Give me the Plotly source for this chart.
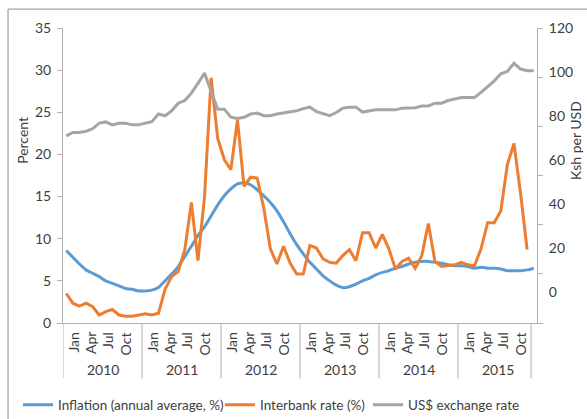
import plotly.graph_objects as go

months = list(range(72))  # Jan 2010 .. Dec 2015
years = ["2010", "2011", "2012", "2013", "2014", "2015"]
month_labels = ["Jan", "Apr", "Jul", "Oct"]

inflation = [8.6, 7.8, 7.0, 6.3, 5.9, 5.5, 5.0, 4.7, 4.4, 4.1, 4.0, 3.8,
             3.8, 3.9, 4.2, 5.0, 5.8, 6.7, 7.9, 9.1, 10.4, 11.4, 12.7, 14.0,
             15.1, 15.9, 16.5, 16.6, 16.4, 15.8, 15.1, 14.3, 13.3, 12.0, 10.6, 9.3,
             8.2, 7.2, 6.4, 5.6, 5.0, 4.5, 4.2, 4.3, 4.6, 5.0, 5.3, 5.7,
             6.0, 6.2, 6.5, 6.7, 7.0, 7.2, 7.3, 7.3, 7.2, 7.1, 6.9, 6.8,
             6.8, 6.7, 6.5, 6.6, 6.5, 6.5, 6.4, 6.2, 6.2, 6.2, 6.3, 6.5]

interbank = [3.5, 2.35, 2.0, 2.35, 1.95, 0.95, 1.35, 1.6, 0.95, 0.8, 0.8, 0.95,
             1.1, 0.95, 1.15, 4.0, 5.5, 6.1, 8.7, 14.3, 7.4, 15.0, 29.1, 21.9,
             19.4, 18.2, 24.1, 16.2, 17.3, 17.2, 13.6, 8.8, 7.0, 9.1, 7.1, 5.8,
             5.8, 9.2, 8.9, 7.6, 7.2, 7.1, 8.0, 8.7, 7.4, 10.7, 10.7, 8.9,
             10.5, 8.8, 6.4, 7.3, 7.7, 6.5, 8.0, 11.8, 7.3, 6.7, 6.8, 6.9,
             7.2, 6.9, 6.8, 8.8, 11.9, 11.9, 13.3, 18.8, 21.3, 15.4, 8.7, None]

usd_rate = [76.1, 77.5, 77.5, 78.0, 79.0, 81.3, 81.8, 80.6, 81.3, 81.3, 80.6, 80.6,
            81.3, 81.9, 85.0, 84.3, 86.3, 89.4, 90.5, 93.5, 97.5, 101.7, 94.2, 87.0,
            87.0, 83.7, 83.2, 83.7, 85.0, 85.4, 84.3, 84.3, 85.0, 85.4, 85.8, 86.3,
            87.2, 87.8, 86.0, 85.0, 84.3, 85.6, 87.4, 87.8, 87.8, 85.8, 86.3, 86.7,
            86.7, 86.7, 86.7, 87.4, 87.6, 87.6, 88.3, 88.3, 89.4, 89.4, 90.5, 91.1,
            91.7, 91.7, 91.7, 93.8, 96.2, 98.5, 101.4, 102.3, 105.7, 103.3, 102.6, 102.6]

FONT = "Lato"
TXT = "#404040"
AX = "#B0B0B0"

fig = go.Figure()
fig.add_trace(go.Scatter(x=months, y=inflation, mode="lines", name="Inflation (annual average, %)",
                         line=dict(color="#5B9BD5", width=3, shape="spline", smoothing=0.6),
                         legend="legend"))
fig.add_trace(go.Scatter(x=months, y=interbank, mode="lines", name="Interbank rate (%)",
                         line=dict(color="#ED7D31", width=3), legend="legend2"))
fig.add_trace(go.Scatter(x=months, y=usd_rate, mode="lines", name="US$ exchange rate",
                         line=dict(color="#A5A5A5", width=3), yaxis="y2", legend="legend3"))
# carrier for right-hand tick labels
fig.add_trace(go.Scatter(x=[None], y=[None], yaxis="y3", showlegend=False, hoverinfo="skip"))

annotations = []
shapes = []
for yi, yr in enumerate(years):
    for k, lab in enumerate(month_labels):
        off = [1.55, 4.2, 6.85, 9.5][k]
        annotations.append(dict(x=yi * 12 - 0.5 + off, y=-0.025, xref="x", yref="paper",
                                text=lab, textangle=-90, showarrow=False, xanchor="center",
                                yanchor="top", font=dict(family=FONT, size=14, color=TXT)))
    annotations.append(dict(x=yi * 12 - 0.5 + 6.1, y=-0.158, xref="x", yref="paper", text=yr,
                            showarrow=False, xanchor="center", yanchor="middle",
                            font=dict(family=FONT, size=14, color=TXT)))
for sep in [-0.5, 11.5, 23.5, 35.5, 47.5, 59.5, 70.6]:
    shapes.append(dict(type="line", xref="x", yref="paper", x0=sep, x1=sep, y0=0, y1=-0.188,
                       line=dict(color=AX, width=1)))
shapes.append(dict(type="rect", xref="paper", yref="paper", x0=-0.116, x1=1.3, y0=-0.6, y1=1.064,
                   line=dict(color="#8C8C8C", width=1), layer="below"))

annotations.append(dict(x=-0.087, y=0.62, xref="paper", yref="paper", text="Percent",
                        xanchor="center", yanchor="middle",
                        textangle=-90, showarrow=False, font=dict(family=FONT, size=14, color=TXT)))
annotations.append(dict(x=1.080, y=0.62, xref="paper", yref="paper", text="Ksh per USD",
                        xanchor="center", yanchor="middle",
                        textangle=-90, showarrow=False, font=dict(family=FONT, size=14, color=TXT)))

leg_common = dict(orientation="h", y=-0.278, xanchor="left", yanchor="middle",
                  font=dict(family=FONT, size=13.5, color=TXT), bgcolor="rgba(0,0,0,0)")

fig.update_layout(
    width=587, height=419,
    margin=dict(l=63, r=50, t=28, b=96, autoexpand=False),
    paper_bgcolor="white", plot_bgcolor="white",
    font=dict(family=FONT, size=14, color=TXT),
    showlegend=True,
    legend=dict(x=-0.0949, **leg_common),
    legend2=dict(x=0.3312, **leg_common),
    legend3=dict(x=0.6435, **leg_common),
    xaxis=dict(range=[-0.5, 71.5], showticklabels=False, ticks="", showgrid=False,
               zeroline=False, showline=True, linecolor=AX, linewidth=1),
    yaxis=dict(range=[0, 35], dtick=5, tick0=0, ticks="outside", ticklen=5, tickcolor=AX,
               showline=True, linecolor=AX, linewidth=1, showgrid=False, zeroline=False,
               ticklabelstandoff=3),
    yaxis2=dict(range=[0, 120], overlaying="y", side="right", dtick=20, ticks="outside",
                ticklen=5, tickcolor=AX, showline=True, linecolor=AX, linewidth=1,
                showgrid=False, zeroline=False, showticklabels=False),
    yaxis3=dict(range=[-14.1, 120.1], overlaying="y", side="right", tickvals=[0, 20, 40, 60, 80, 100, 120],
                ticks="outside", ticklen=5, tickcolor="rgba(0,0,0,0)", showline=False,
                showgrid=False, zeroline=False, ticklabelstandoff=3),
    annotations=annotations, shapes=shapes,
)

fig.write_html("out.html", config={"displayModeBar": False},
               post_script="document.body.style.margin='0';document.body.style.padding='0';")
